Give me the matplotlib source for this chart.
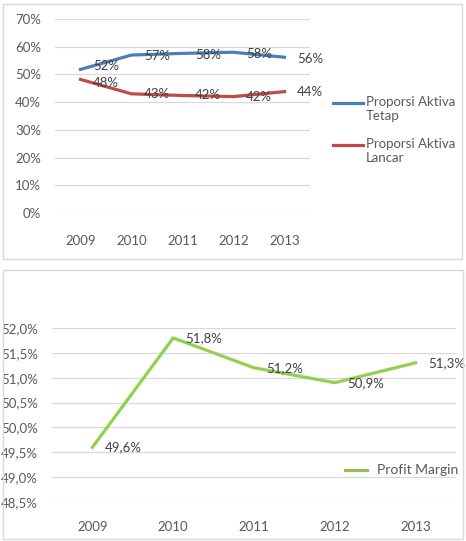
import matplotlib
matplotlib.use("Agg")
import matplotlib.pyplot as plt
from matplotlib.patches import Rectangle
from matplotlib.lines import Line2D
from matplotlib.ticker import FuncFormatter

# data
years = ['2009', '2010', '2011', '2012', '2013']
aktiva_tetap = [0.518, 0.570, 0.576, 0.580, 0.562]
aktiva_lancar = [0.482, 0.430, 0.424, 0.420, 0.438]
profit_margin = [49.6, 51.8, 51.2, 50.9, 51.3]
pm_labels = ['49,6%', '51,8%', '51,2%', '50,9%', '51,3%']

W, H = 466, 541
plt.rcParams['font.family'] = ['Lato', 'DejaVu Sans']
TXT = '#595959'
GRID = '#d9d9d9'
BLUE, RED, GREEN = '#4a7ebb', '#be4b48', '#92d050'

fig = plt.figure(figsize=(W / 100, H / 100), dpi=100)


def px_axes(x0, x1, y_top, y_bot):
    return fig.add_axes([x0 / W, 1 - y_bot / H, (x1 - x0) / W, (y_bot - y_top) / H])


def style(ax):
    for s in ax.spines.values():
        s.set_visible(False)
    ax.grid(axis='y', color=GRID, linewidth=0.9)
    ax.set_axisbelow(True)
    ax.tick_params(length=0, colors=TXT, labelsize=9.5)


def fig_line(x0, x1, y, color):
    fig.add_artist(Line2D([x0 / W, x1 / W], [1 - y / H, 1 - y / H],
                          transform=fig.transFigure, color=color, linewidth=2.3))


# panel borders
for (x0, y0, x1, y1) in [(3, 4, 462, 259), (3, 270, 463, 539)]:
    fig.patches.append(Rectangle((x0 / W, 1 - y1 / H), (x1 - x0) / W, (y1 - y0) / H,
                                 transform=fig.transFigure, fill=False,
                                 edgecolor=GRID, linewidth=1))

# top chart
ax1 = px_axes(55, 310, 19, 213)
style(ax1)
x = range(len(years))
ax1.plot(x, aktiva_tetap, color=BLUE, linewidth=2.3)
ax1.plot(x, aktiva_lancar, color=RED, linewidth=2.3)
for xi, (a, b) in enumerate(zip(aktiva_tetap, aktiva_lancar)):
    # first pair sits very close, nudge apart a little
    dy = 2.5 if xi == 0 else -1
    ax1.annotate(f'{round(a * 100):.0f}%', (xi, a), xytext=(9, dy), textcoords='offset points',
                 ha='left', va='center', fontsize=9.5, color='#404040')
    ax1.annotate(f'{round(b * 100):.0f}%', (xi, b), xytext=(9, -2.5 if xi == 0 else 0),
                 textcoords='offset points', ha='left', va='center', fontsize=9.5, color='#404040')
ax1.set_xlim(-0.5, 4.5)
ax1.set_ylim(0, 0.7)
ax1.set_yticks([i / 10 for i in range(8)])
ax1.yaxis.set_major_formatter(FuncFormatter(lambda v, p: f'{v * 100:.0f}%'))
ax1.set_xticks(list(x))
ax1.set_xticklabels(years)
ax1.tick_params(axis='y', pad=10)
ax1.tick_params(axis='x', pad=16)

# legend drawn by hand so the key sits on the first text line
for name, color, y in [('Proporsi Aktiva\nTetap', BLUE, 103), ('Proporsi Aktiva\nLancar', RED, 145)]:
    fig_line(333, 363, y, color)
    fig.text(366 / W, 1 - (y - 7) / H, name, ha='left', va='top', fontsize=9.5,
             color=TXT, linespacing=1.25)

# bottom chart
ax2 = px_axes(52, 456, 328, 502)
style(ax2)
ax2.plot(x, profit_margin, color=GREEN, linewidth=2.3)
for xi, (v, lab) in enumerate(zip(profit_margin, pm_labels)):
    ax2.annotate(lab, (xi, v), xytext=(9, 0), textcoords='offset points',
                 ha='left', va='center', fontsize=9.5, color='#404040')
ax2.set_xlim(-0.5, 4.5)
ax2.set_ylim(48.5, 52.0)
ax2.set_yticks([48.5 + 0.5 * i for i in range(8)])
ax2.yaxis.set_major_formatter(FuncFormatter(lambda v, p: f'{v:.1f}%'.replace('.', ',')))
ax2.set_xticks(list(x))
ax2.set_xticklabels(years)
ax2.tick_params(axis='y', pad=10)
ax2.tick_params(axis='x', pad=14)

fig_line(345, 367, 470, '#9bbb59')
fig.text(377 / W, 1 - 470 / H, 'Profit Margin', ha='left', va='center', fontsize=10, color=TXT)

fig.savefig('out.png', dpi=100)
